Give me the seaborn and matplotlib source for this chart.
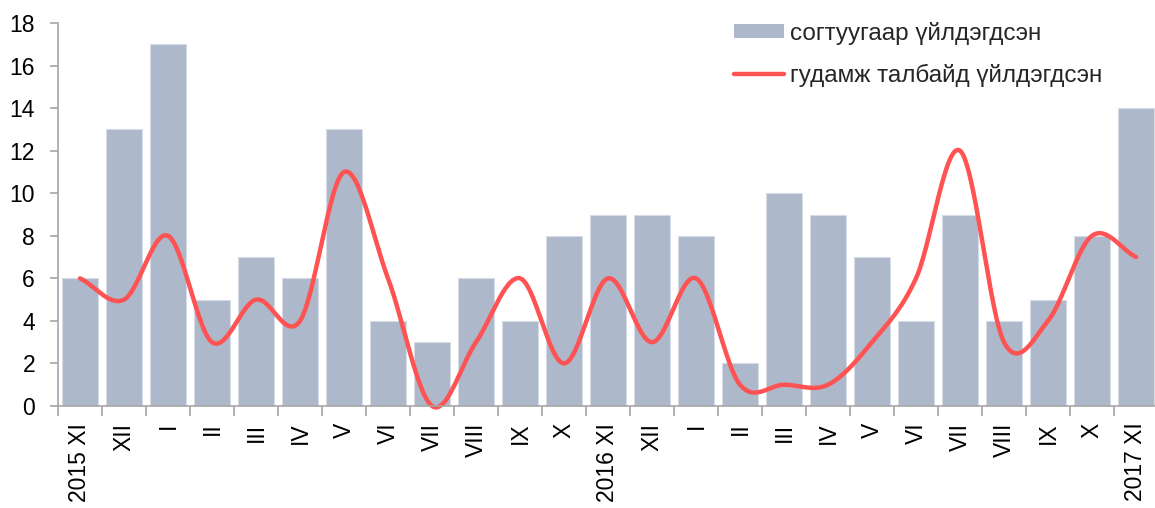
import matplotlib
matplotlib.use("Agg")
import matplotlib.pyplot as plt
import numpy as np
import pandas as pd
import seaborn as sns
from matplotlib.lines import Line2D
from matplotlib.patches import Patch

months = ["2015 XI", "XII", "I", "II", "III", "IV", "V", "VI", "VII", "VIII",
          "IX", "X", "2016 XI", "XII", "I", "II", "III", "IV", "V", "VI",
          "VII", "VIII", "IX", "X", "2017 XI"]
drunk = [6, 13, 17, 5, 7, 6, 13, 4, 3, 6, 4, 8, 9, 9, 8, 2, 10, 9, 7, 4, 9, 4, 5, 8, 14]
street = [6, 5, 8, 3, 5, 4, 11, 6, 0, 3, 6, 2, 6, 3, 6, 1, 1, 1, 3, 6, 12, 3, 4, 8, 7]

bar_label = "согтуугаар үйлдэгдсэн"
line_label = "гудамж талбайд үйлдэгдсэн"

BAR_COLOR = "#ADB8CA"
LINE_COLOR = "#FF5252"
AXIS_COLOR = "#A6A6A6"


def smooth_curve(xs, ys, steps=30):
    # Catmull-Rom spline, similar to a spreadsheet "smoothed line"
    xs = np.asarray(xs, dtype=float)
    ys = np.asarray(ys, dtype=float)
    px = np.concatenate([[2 * xs[0] - xs[1]], xs, [2 * xs[-1] - xs[-2]]])
    py = np.concatenate([[2 * ys[0] - ys[1]], ys, [2 * ys[-1] - ys[-2]]])
    out_x, out_y = [], []
    t = np.linspace(0, 1, steps, endpoint=False)
    for i in range(1, len(px) - 2):
        for p, out in ((px, out_x), (py, out_y)):
            p0, p1, p2, p3 = p[i - 1], p[i], p[i + 1], p[i + 2]
            out.extend(0.5 * ((2 * p1) + (-p0 + p2) * t
                              + (2 * p0 - 5 * p1 + 4 * p2 - p3) * t ** 2
                              + (-p0 + 3 * p1 - 3 * p2 + p3) * t ** 3))
    out_x.append(xs[-1])
    out_y.append(ys[-1])
    return np.array(out_x), np.array(out_y)


sns.set_theme(style="white")
plt.rcParams["font.family"] = ["Liberation Sans", "DejaVu Sans"]

df = pd.DataFrame({"pos": range(len(months)), "drunk": drunk, "street": street})

fig = plt.figure(figsize=(11.55, 5.08), dpi=100)
ax = fig.add_axes([58 / 1155, 102 / 508, 1100 / 1155, 383 / 508])

sns.barplot(data=df, x="pos", y="drunk", color=BAR_COLOR, saturation=1,
            width=0.8, edgecolor="#D5DCE6", linewidth=0.8, ax=ax)

sx, sy = smooth_curve(df["pos"], df["street"])
ax.plot(sx, sy, color=LINE_COLOR, lw=3.2, solid_capstyle="round", clip_on=False)

ax.set_xlim(-0.5, len(months) - 0.5)
ax.set_ylim(0, 18)
ax.set_yticks(range(0, 19, 2))
ax.set_xticks(range(len(months)))
ax.set_xticklabels(months, rotation=90, fontsize=16.5)
ax.set_xticks(np.arange(-0.5, len(months), 1), minor=True)
ax.tick_params(axis="x", which="major", length=0, pad=12, colors="black")
ax.tick_params(axis="x", which="minor", length=7, width=1.2, color=AXIS_COLOR,
               direction="out", bottom=True)
ax.tick_params(axis="y", length=6, width=1.2, color=AXIS_COLOR, direction="out",
               left=True, labelsize=16.5, labelcolor="black", pad=10.5)
ax.set_xlabel("")
ax.set_ylabel("")

for side in ("top", "right"):
    ax.spines[side].set_visible(False)
for side in ("left", "bottom"):
    ax.spines[side].set_color(AXIS_COLOR)
    ax.spines[side].set_linewidth(1.2)

handles = [Patch(facecolor=BAR_COLOR, edgecolor="none"),
           Line2D([0], [0], color=LINE_COLOR, lw=3.2, solid_capstyle="round")]
fig.legend(handles, [bar_label, line_label], loc="upper left",
           bbox_to_anchor=(724 / 1155, 1 - 12 / 508), frameon=False,
           fontsize=17.5, handlelength=2.05, handleheight=0.55, handletextpad=0.25,
           labelspacing=0.8, borderaxespad=0)

fig.savefig("out.png", dpi=100)
